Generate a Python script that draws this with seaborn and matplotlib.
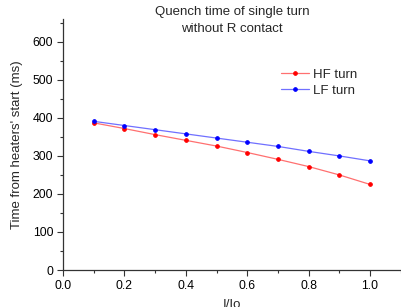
import matplotlib
matplotlib.use("Agg")
import matplotlib.pyplot as plt
import seaborn as sns
import pandas as pd
from matplotlib.ticker import MultipleLocator

current = [0.1, 0.2, 0.3, 0.4, 0.5, 0.6, 0.7, 0.8, 0.9, 1.0]
hf_turn = [387, 372, 356, 341, 326, 309, 291, 272, 250, 225]
lf_turn = [391, 380, 369, 358, 347, 336, 325, 312, 300, 287]
series = ["HF turn", "LF turn"]

df = pd.DataFrame({
    "I/Io": current * 2,
    "t": hf_turn + lf_turn,
    "series": [series[0]] * len(current) + [series[1]] * len(current),
})

sns.set_style("ticks")
plt.rcParams["font.family"] = ["Liberation Sans", "DejaVu Sans"]

fig = plt.figure(figsize=(4.01, 3.07), dpi=100)
ax = fig.add_axes([0.157, 0.1205, 0.8425, 0.8175])

line_cols = {"HF turn": "#ff7070", "LF turn": "#7070ff"}
mark_cols = {"HF turn": "#ff0000", "LF turn": "#0000ff"}
sns.lineplot(data=df, x="I/Io", y="t", hue="series", palette=line_cols,
             marker="o", markersize=2.6, linewidth=0.9, ax=ax, legend=True)
for ln in ax.lines:
    for s in series:
        if matplotlib.colors.to_hex(ln.get_color()) == matplotlib.colors.to_hex(line_cols[s]):
            ln.set_markerfacecolor(mark_cols[s])
            ln.set_markeredgecolor(mark_cols[s])

ax.set_xlim(0, 1.1)
ax.set_ylim(0, 660)
ax.xaxis.set_major_locator(MultipleLocator(0.2))
ax.xaxis.set_minor_locator(MultipleLocator(0.1))
ax.yaxis.set_major_locator(MultipleLocator(100))
ax.yaxis.set_minor_locator(MultipleLocator(50))
ax.tick_params(which="major", direction="out", length=4, width=0.8, labelsize=8.8,
               colors="#333333", labelcolor="black", pad=3)
ax.tick_params(which="minor", direction="out", length=2.5, width=0.8, colors="#333333")
ax.xaxis.set_major_formatter(matplotlib.ticker.FormatStrFormatter("%.1f"))
for sp in ["top", "right"]:
    ax.spines[sp].set_visible(False)
for sp in ["left", "bottom"]:
    ax.spines[sp].set_color("#333333")
    ax.spines[sp].set_linewidth(0.9)

ax.set_xlabel("I/Io", fontsize=9.5, labelpad=5)
ax.set_ylabel("Time from heaters' start (ms)", fontsize=9.5, labelpad=7)
fig.text(232 / 401, 1 - 6 / 307, "Quench time of single turn\nwithout R contact",
         ha="center", va="top", fontsize=9.5, linespacing=1.55)

leg = ax.legend(loc="upper left", bbox_to_anchor=((276 - 63) / 338, 1 - (63 - 19) / 251),
                frameon=False, fontsize=9.5,
                handlelength=2.1, handletextpad=0.35, labelspacing=0.3, borderaxespad=0)
for h, s in zip(leg.get_lines(), series):
    h.set_color(line_cols[s])
    h.set_markerfacecolor(mark_cols[s])
    h.set_markeredgecolor(mark_cols[s])

fig.savefig("out.png", dpi=100)
